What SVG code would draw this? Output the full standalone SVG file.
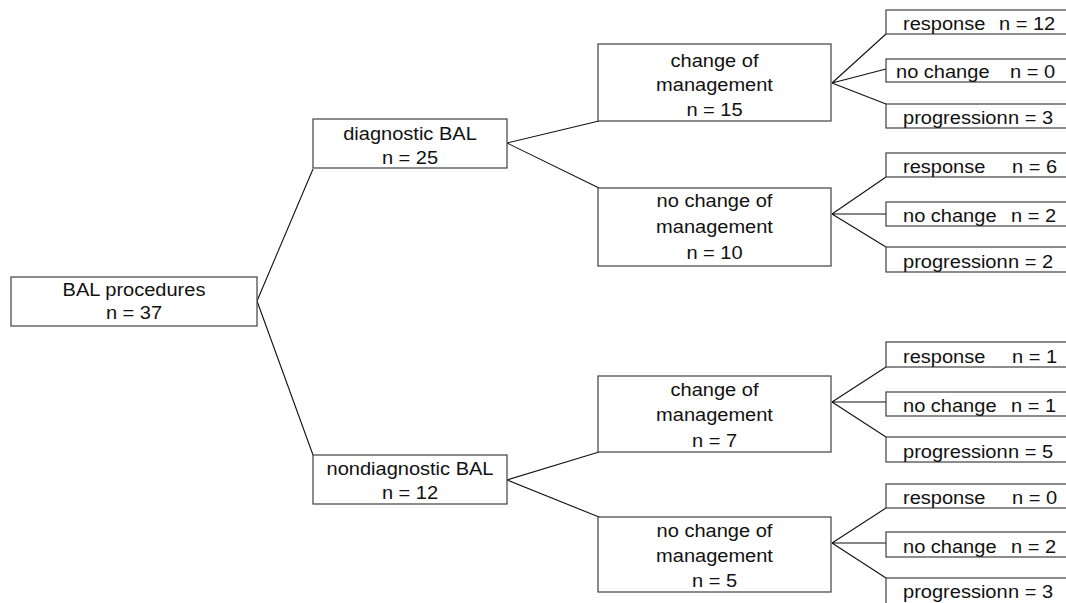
<svg xmlns="http://www.w3.org/2000/svg" width="1066" height="603" viewBox="0 0 1066 603">
<style>
.box{fill:#fff;stroke:#404040;stroke-width:1.2}
.ln{fill:none;stroke:#111;stroke-width:1.1}
text{font-family:"Liberation Sans",Arial,sans-serif;font-size:17.5px;fill:#111}
.c{text-anchor:middle}
</style>
<rect width="1066" height="603" fill="#fff"/>
<g id="connectors">
<path class="ln" d="M257,301 L313,169 M257,301 L313,455"/>
<path class="ln" d="M507,143 L599,121 M507,143 L599,188"/>
<path class="ln" d="M507,480 L599,452 M507,480 L599,517"/>
<path class="ln" d="M832,83 L886,34 M832,83 L886,69 M832,83 L886,104"/>
<path class="ln" d="M832,214 L886,177 M832,214 L886,214 M832,214 L886,247"/>
<path class="ln" d="M832,402 L886,367 M832,402 L886,402 M832,402 L886,437"/>
<path class="ln" d="M832,543 L886,508 M832,543 L886,543 M832,543 L886,578"/>
</g>
<g id="root">
<rect class="box" x="11" y="277" width="246" height="49"/>
<text class="c" transform="translate(134,296) scale(1.145 1)">BAL procedures</text>
<text class="c" transform="translate(134,318.5) scale(1.145 1)">n = 37</text>
</g>
<g id="diag">
<rect class="box" x="313" y="119" width="194" height="49"/>
<text class="c" transform="translate(410,140) scale(1.145 1)">diagnostic BAL</text>
<text class="c" transform="translate(410,164) scale(1.145 1)">n = 25</text>
</g>
<g id="nondiag">
<rect class="box" x="313" y="455" width="194" height="49"/>
<text class="c" transform="translate(410,475) scale(1.145 1)">nondiagnostic BAL</text>
<text class="c" transform="translate(410,499) scale(1.145 1)">n = 12</text>
</g>
<g id="com1">
<rect class="box" x="598" y="44" width="233" height="77"/>
<text class="c" transform="translate(714.5,66.5) scale(1.145 1)">change of</text>
<text class="c" transform="translate(714.5,91) scale(1.145 1)">management</text>
<text class="c" transform="translate(714.5,115.5) scale(1.145 1)">n = 15</text>
</g>
<g id="nocom1">
<rect class="box" x="598" y="188" width="233" height="78"/>
<text class="c" transform="translate(714.5,207) scale(1.145 1)">no change of</text>
<text class="c" transform="translate(714.5,233) scale(1.145 1)">management</text>
<text class="c" transform="translate(714.5,259) scale(1.145 1)">n = 10</text>
</g>
<g id="com2">
<rect class="box" x="598" y="376" width="233" height="76"/>
<text class="c" transform="translate(714.5,396) scale(1.145 1)">change of</text>
<text class="c" transform="translate(714.5,421) scale(1.145 1)">management</text>
<text class="c" transform="translate(714.5,446.5) scale(1.145 1)">n = 7</text>
</g>
<g id="nocom2">
<rect class="box" x="598" y="517" width="233" height="75"/>
<text class="c" transform="translate(714.5,537) scale(1.145 1)">no change of</text>
<text class="c" transform="translate(714.5,562) scale(1.145 1)">management</text>
<text class="c" transform="translate(714.5,587) scale(1.145 1)">n = 5</text>
</g>
<g id="leaf-a1"><rect class="box" x="886" y="10" width="200" height="24"/>
<text transform="translate(903,30) scale(1.145 1)">response</text><text transform="translate(999,30) scale(1.145 1)">n = 12</text></g>
<g id="leaf-a2"><rect class="box" x="886" y="59" width="200" height="23"/>
<text transform="translate(896,78) scale(1.145 1)">no change</text><text transform="translate(1010,78) scale(1.145 1)">n = 0</text></g>
<g id="leaf-a3"><rect class="box" x="886" y="104" width="200" height="24"/>
<text transform="translate(903,124) scale(1.145 1)">progression</text><text transform="translate(1008,124) scale(1.145 1)">n = 3</text></g>
<g id="leaf-b1"><rect class="box" x="886" y="153" width="200" height="24"/>
<text transform="translate(903,173) scale(1.145 1)">response</text><text transform="translate(1012,173) scale(1.145 1)">n = 6</text></g>
<g id="leaf-b2"><rect class="box" x="886" y="202" width="200" height="24"/>
<text transform="translate(903,222) scale(1.145 1)">no change</text><text transform="translate(1011,222) scale(1.145 1)">n = 2</text></g>
<g id="leaf-b3"><rect class="box" x="886" y="247" width="200" height="25"/>
<text transform="translate(903,268) scale(1.145 1)">progression</text><text transform="translate(1008,268) scale(1.145 1)">n = 2</text></g>
<g id="leaf-c1"><rect class="box" x="886" y="342" width="200" height="25"/>
<text transform="translate(903,363) scale(1.145 1)">response</text><text transform="translate(1012,363) scale(1.145 1)">n = 1</text></g>
<g id="leaf-c2"><rect class="box" x="886" y="392" width="200" height="24"/>
<text transform="translate(903,412) scale(1.145 1)">no change</text><text transform="translate(1011,412) scale(1.145 1)">n = 1</text></g>
<g id="leaf-c3"><rect class="box" x="886" y="437" width="200" height="25"/>
<text transform="translate(903,458) scale(1.145 1)">progression</text><text transform="translate(1008,458) scale(1.145 1)">n = 5</text></g>
<g id="leaf-d1"><rect class="box" x="886" y="484" width="200" height="24"/>
<text transform="translate(903,504) scale(1.145 1)">response</text><text transform="translate(1012,504) scale(1.145 1)">n = 0</text></g>
<g id="leaf-d2"><rect class="box" x="886" y="532" width="200" height="25"/>
<text transform="translate(903,553) scale(1.145 1)">no change</text><text transform="translate(1011,553) scale(1.145 1)">n = 2</text></g>
<g id="leaf-d3"><rect class="box" x="886" y="578" width="200" height="40"/>
<text transform="translate(903,598) scale(1.145 1)">progression</text><text transform="translate(1008,598) scale(1.145 1)">n = 3</text></g>
</svg>
